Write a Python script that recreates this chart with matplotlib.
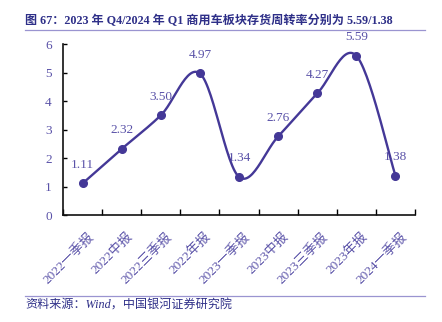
import numpy as np
import matplotlib
matplotlib.use("Agg")
import matplotlib.pyplot as plt
from matplotlib.lines import Line2D

cats = ["2022一季报", "2022中报", "2022三季报", "2022年报", "2023一季报",
        "2023中报", "2023三季报", "2023年报", "2024一季报"]
vals = [1.11, 2.32, 3.50, 4.97, 1.34, 2.76, 4.27, 5.59, 1.38]
title = "图 67：2023 年 Q4/2024 年 Q1 商用车板块存货周转率分别为 5.59/1.38"
source = "资料来源：Wind，中国银河证券研究院"

fam = ["Liberation Serif", "Noto Sans CJK SC"]
plt.rcParams["font.family"] = fam
line_c = "#443897"
txt_c = "#5a52a8"

fig = plt.figure(figsize=(4.42, 3.22), dpi=100)
ax = fig.add_axes([0.1425, 0.332, 0.7965, 0.531])

x = np.arange(len(vals))
y = np.array(vals)

# smooth curve (catmull-rom, like excel smoothed line), done in roughly pixel space
sx, sy = 39.0, 28.5
P = np.column_stack([x * sx, y * sy])
Pp = np.vstack([P[0], P, P[-1]])
curve = []
t = np.linspace(0, 1, 30)
for i in range(len(P) - 1):
    p0, p1, p2, p3 = Pp[i], Pp[i + 1], Pp[i + 2], Pp[i + 3]
    c1 = p1 + (p2 - p0) / 6
    c2 = p2 - (p3 - p1) / 6
    seg = ((1 - t) ** 3)[:, None] * p1 + (3 * (1 - t) ** 2 * t)[:, None] * c1 \
        + (3 * (1 - t) * t ** 2)[:, None] * c2 + (t ** 3)[:, None] * p2
    curve.append(seg)
curve = np.vstack(curve)
ax.plot(curve[:, 0] / sx, curve[:, 1] / sy, color=line_c, lw=1.7, zorder=3)
ax.plot(x, y, "o", color=line_c, ms=5.5, zorder=4)

for xi, yi in zip(x, y):
    ax.annotate(f"{yi:.2f}", (xi, yi), xytext=(0, 9), textcoords="offset points",
                ha="center", va="bottom", fontsize=9.5, color=txt_c)

ax.set_xlim(-0.5, len(vals) - 0.5)
ax.set_ylim(0, 6)
ax.set_yticks(range(7))
ax.set_xticks(np.arange(-0.5, len(vals), 1))
ax.set_xticklabels([])
ax.set_xticks(x + 0.12, minor=True)
ax.set_xticklabels(cats, minor=True, rotation=45, ha="right", va="top",
                   rotation_mode="anchor", fontsize=9.5, color=txt_c)
ax.tick_params(axis="x", which="minor", length=0, pad=11)
ax.tick_params(axis="x", which="major", direction="in", length=4, width=1)
ax.tick_params(axis="y", direction="in", length=3, width=1, labelsize=9.5,
               labelcolor=txt_c, pad=8)
for s in ["top", "right"]:
    ax.spines[s].set_visible(False)
for s in ["left", "bottom"]:
    ax.spines[s].set_linewidth(1.2)
    ax.spines[s].set_color("#111111")

fig.text(0.057, 0.935, title, fontsize=8.7, fontweight="bold", color="#2e2f88",
         ha="left", va="center")
fig.add_artist(Line2D([0.057, 0.962], [0.907, 0.907], transform=fig.transFigure,
                      color="#9a94d0", lw=0.9))
fig.add_artist(Line2D([0.057, 0.962], [0.081, 0.081], transform=fig.transFigure,
                      color="#9a94d0", lw=0.9))
fig.text(0.057, 0.05, source, fontsize=8.7, style="italic", color="#2e2f88",
         ha="left", va="center")

fig.savefig("out.png", dpi=100)
